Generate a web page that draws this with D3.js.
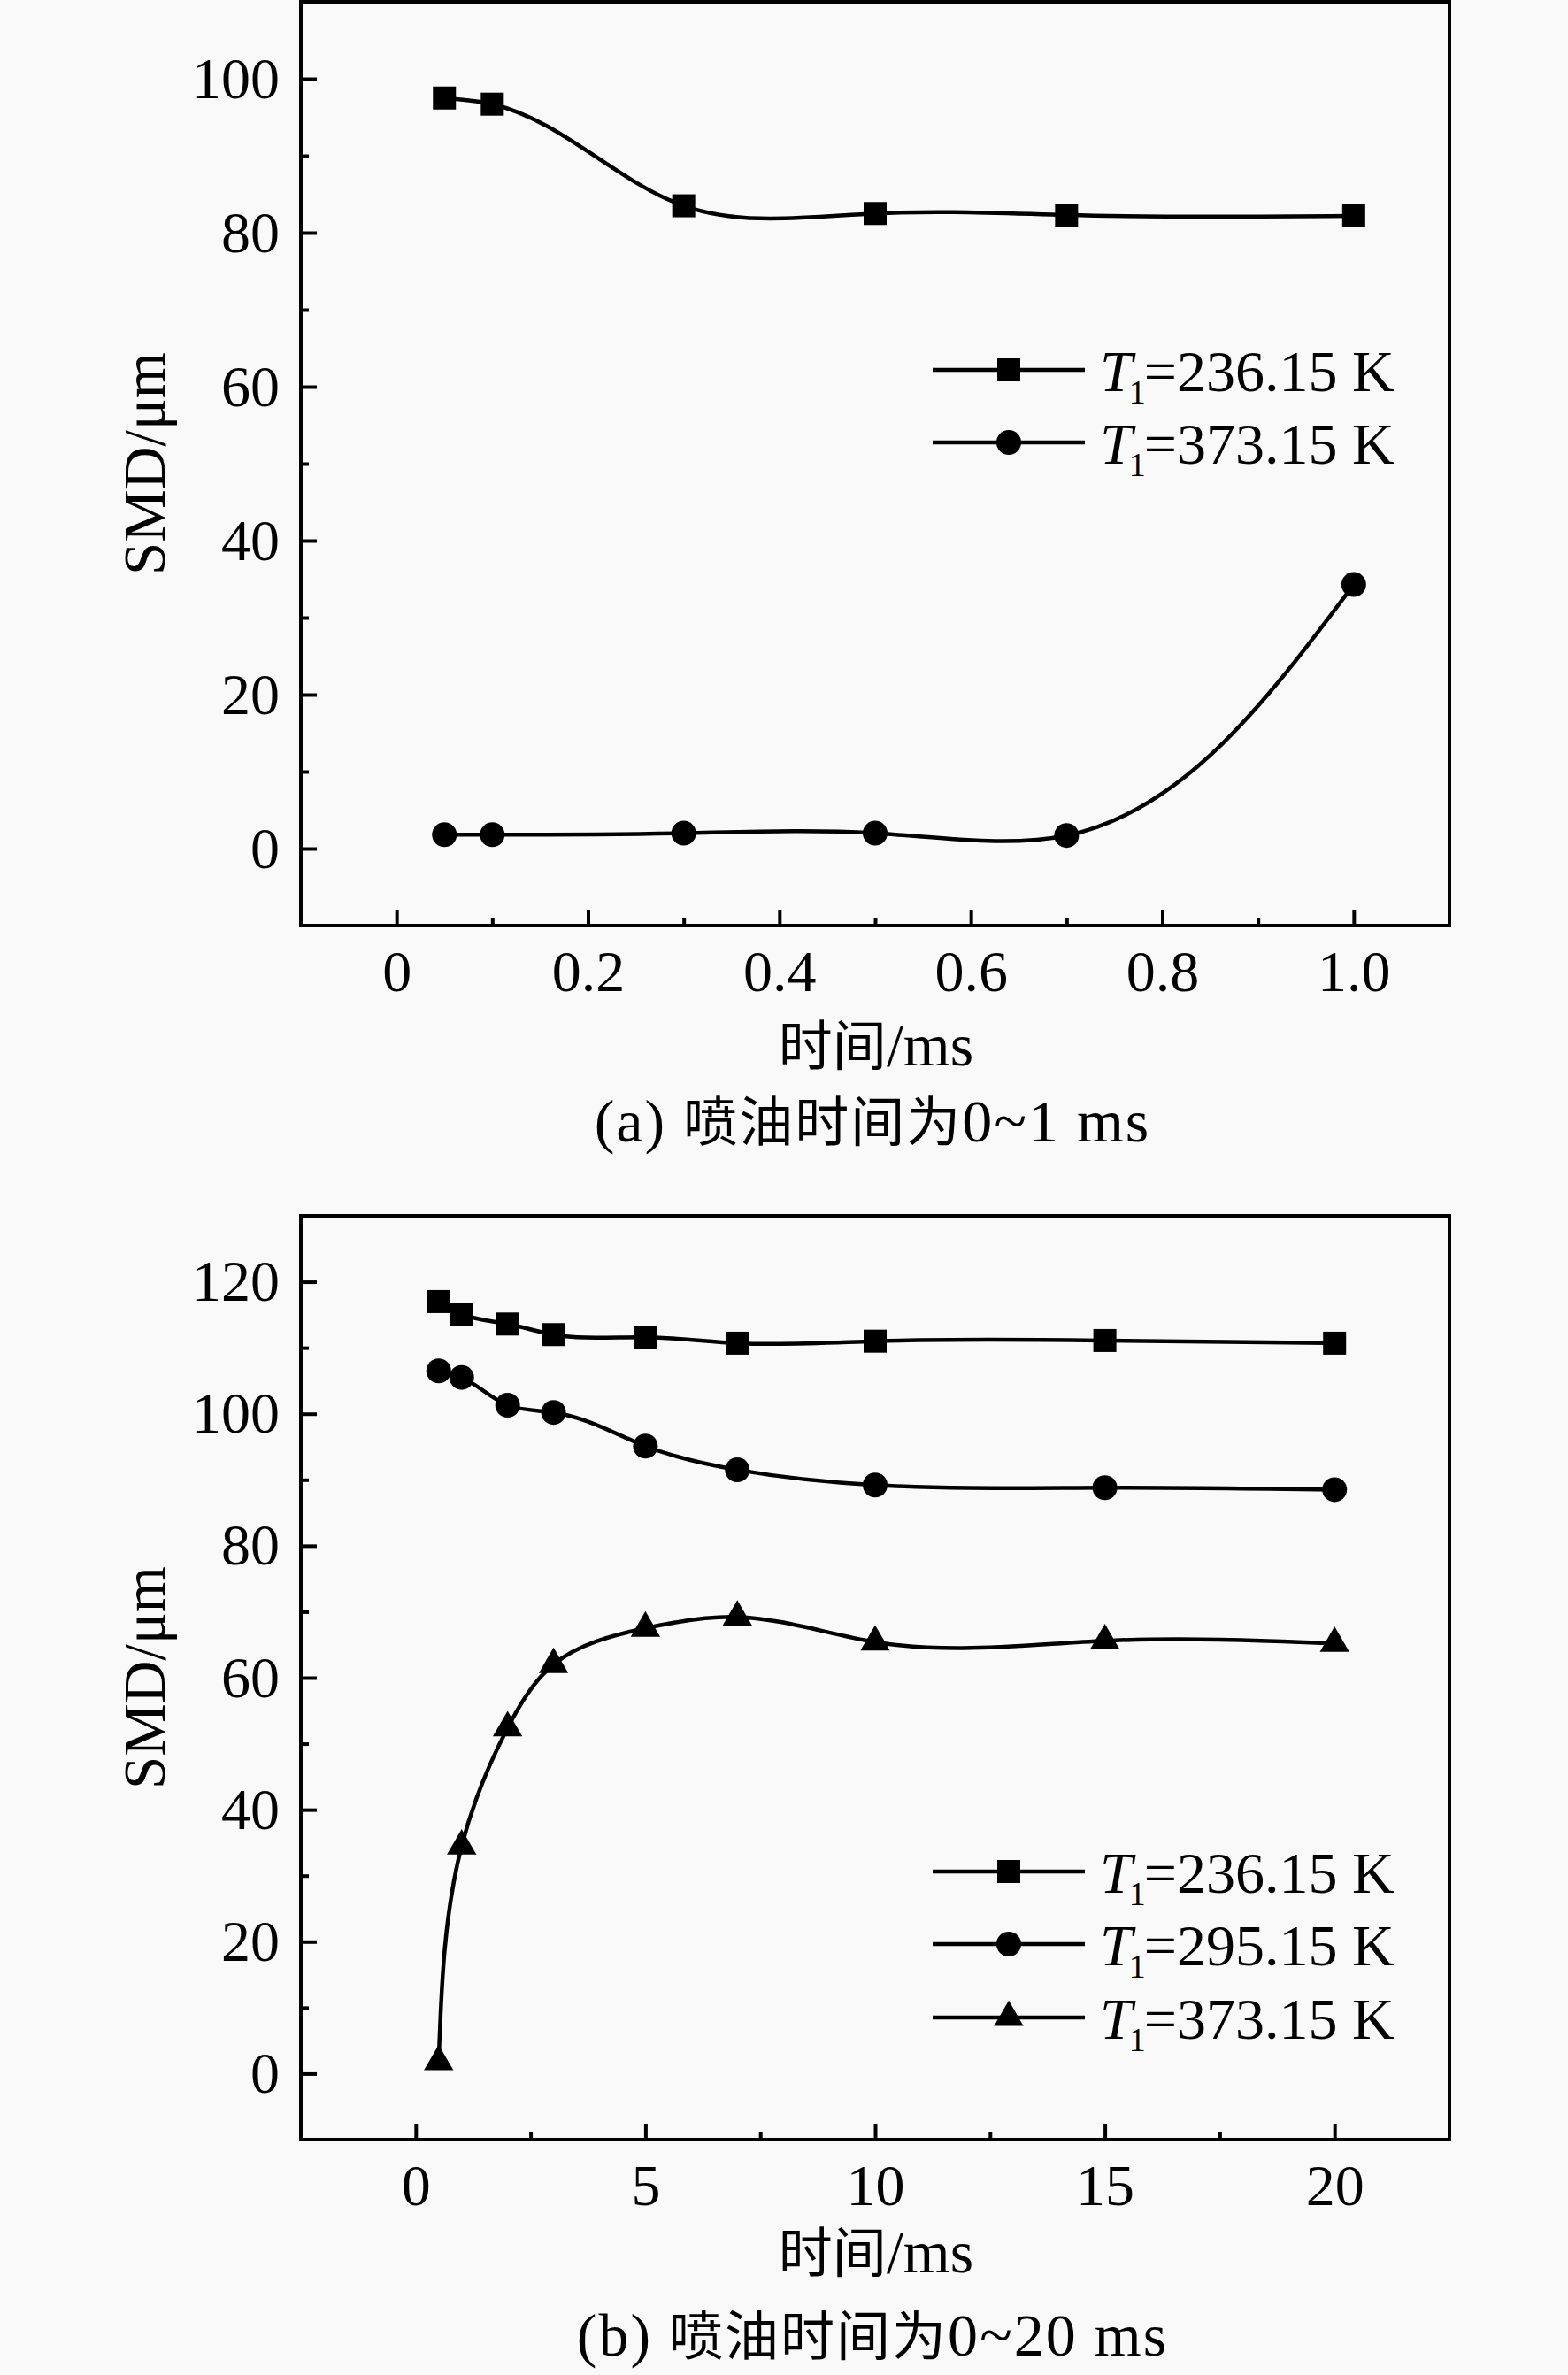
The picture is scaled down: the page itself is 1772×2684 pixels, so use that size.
<!DOCTYPE html>
<html>
<head>
<meta charset="utf-8">
<script src="https://cdn.jsdelivr.net/npm/d3@7"></script>
<style>
  body { margin: 0; background: #f9f9f9; }
  svg { display: block; }
</style>
</head>
<body>
<svg id="chart" width="1772" height="2684"></svg>
<script>
'use strict';

// panel (a): 0~1 ms
const timeA = [0.05, 0.1, 0.3, 0.5, 0.7, 1.0];
const smdA236 = [97.5, 96.7, 83.5, 82.5, 82.3, 82.2];
const smdA373 = [1.8, 1.8, 2.0, 2.0, 1.7, 34.3];
const ticksXA = [0, 0.2, 0.4, 0.6, 0.8, 1.0];
const minorXA = [0.1, 0.3, 0.5, 0.7, 0.9];
const ticksYA = [0, 20, 40, 60, 80, 100];
const minorYA = [10, 30, 50, 70, 90];

// panel (b): 0~20 ms
const timeB = [0.5, 1, 2, 3, 5, 7, 10, 15, 20];
const smdB236 = [117.0, 115.1, 113.6, 112.0, 111.6, 110.7, 111.0, 111.1, 110.7];
const smdB295 = [106.5, 105.5, 101.3, 100.2, 95.1, 91.5, 89.2, 88.8, 88.5];
const smdB373 = [1.8, 34.5, 52.4, 62.0, 67.5, 69.2, 65.4, 65.6, 65.2];
const ticksXB = [0, 5, 10, 15, 20];
const minorXB = [2.5, 7.5, 12.5, 17.5];
const ticksYB = [0, 20, 40, 60, 80, 100, 120];
const minorYB = [10, 30, 50, 70, 90, 110];

const seriesNames = ["=236.15 K", "=295.15 K", "=373.15 K"];
const yTitle = "SMD/μm";
// [text, isCJK] pieces, so Latin and Chinese can take their own sizes
const xTitle = [["时间", true], ["/ms", false]];
const captionA = [["(a) ", false], ["喷油时间为", true], ["0~1 ms", false]];
const captionB = [["(b) ", false], ["喷油时间为", true], ["0~20 ms", false]];

const serif = "'Liberation Serif', 'Times New Roman', serif";
const cjk = "'Noto Sans CJK SC', sans-serif";

// natural cubic spline derivatives of v over parameter t
function splineDerivs(t, v) {
	const n = t.length;
	const m = new Array(n).fill(0), a = [], b = [], c = [], r = [];
	for (let i = 1; i < n - 1; i++) {
		const h0 = t[i] - t[i - 1], h1 = t[i + 1] - t[i];
		a[i] = h0; b[i] = 2 * (h0 + h1); c[i] = h1;
		r[i] = 6 * ((v[i + 1] - v[i]) / h1 - (v[i] - v[i - 1]) / h0);
	}
	for (let i = 2; i < n - 1; i++) {
		const w = a[i] / b[i - 1];
		b[i] -= w * c[i - 1];
		r[i] -= w * r[i - 1];
	}
	for (let i = n - 2; i >= 1; i--) m[i] = (r[i] - c[i] * m[i + 1]) / b[i];
	const d = [];
	for (let i = 0; i < n - 1; i++) {
		const h = t[i + 1] - t[i];
		d[i] = (v[i + 1] - v[i]) / h - h * (2 * m[i] + m[i + 1]) / 6;
	}
	const h = t[n - 1] - t[n - 2];
	d[n - 1] = (v[n - 1] - v[n - 2]) / h + h * (m[n - 2] + 2 * m[n - 1]) / 6;
	return d;
}

// parametric (chord length) cubic spline through the points, as bezier pieces
function curveSpline(context) {
	let xs, ys;
	return {
		areaStart() {}, areaEnd() {},
		lineStart() { xs = []; ys = []; },
		point(x, y) { xs.push(+x); ys.push(+y); },
		lineEnd() {
			const n = xs.length;
			if (!n) return;
			context.moveTo(xs[0], ys[0]);
			if (n < 3) { if (n === 2) context.lineTo(xs[1], ys[1]); return; }
			const t = [0];
			for (let i = 1; i < n; i++) t[i] = t[i - 1] + Math.hypot(xs[i] - xs[i - 1], ys[i] - ys[i - 1]);
			const dx = splineDerivs(t, xs), dy = splineDerivs(t, ys);
			for (let i = 0; i < n - 1; i++) {
				const h = (t[i + 1] - t[i]) / 3;
				context.bezierCurveTo(xs[i] + h * dx[i], ys[i] + h * dy[i],
					xs[i + 1] - h * dx[i + 1], ys[i + 1] - h * dy[i + 1], xs[i + 1], ys[i + 1]);
			}
		}
	};
}

const symbols = {
	square: d3.symbol().type(d3.symbolSquare).size(26 * 26),
	circle: d3.symbol().type(d3.symbolCircle).size(Math.PI * 14 * 14),
	triangle: d3.symbol().type(d3.symbolTriangle).size(480)
};

const svg = d3.select("#chart");
svg.append("rect").attr("width", 1772).attr("height", 2684).attr("fill", "#f9f9f9");

function mixedText(g, pieces, x, y, spacing) {
	const t = g.append("text")
		.attr("x", x).attr("y", y)
		.attr("text-anchor", "middle")
		.attr("letter-spacing", spacing)
		.attr("fill", "#000");
	pieces.forEach(function (p) {
		t.append("tspan")
			.attr("font-family", p[1] ? cjk : serif)
			.attr("font-size", p[1] ? 61 : 68)
			.text(p[0]);
	});
	return t;
}

function drawPanel(cfg) {
	const x = d3.scaleLinear().domain(cfg.xDomain).range([340, 1638]);
	const y = d3.scaleLinear().domain(cfg.yDomain).range([cfg.bottom, cfg.top]);
	const g = svg.append("g");

	const styleAxis = function (sel) {
		sel.select(".domain").remove();
		sel.selectAll(".tick line").attr("stroke", "#000").attr("stroke-width", 4);
		sel.selectAll(".tick text").attr("fill", "#000");
		sel.attr("font-family", serif).attr("font-size", 66);
	};

	g.append("g")
		.attr("transform", "translate(0," + cfg.bottom + ")")
		.call(d3.axisBottom(x).tickValues(cfg.ticksX).tickSize(-18).tickPadding(27).tickFormat(cfg.fmtX))
		.call(styleAxis);
	g.append("g")
		.attr("transform", "translate(0," + cfg.bottom + ")")
		.call(d3.axisBottom(x).tickValues(cfg.minorX).tickSize(-9).tickFormat(""))
		.call(styleAxis);
	g.append("g")
		.attr("transform", "translate(340,0)")
		.call(d3.axisLeft(y).tickValues(cfg.ticksY).tickSize(-18).tickPadding(24).tickFormat(d3.format("d")))
		.call(styleAxis);
	g.append("g")
		.attr("transform", "translate(340,0)")
		.call(d3.axisLeft(y).tickValues(cfg.minorY).tickSize(-9).tickFormat(""))
		.call(styleAxis);

	g.append("rect")
		.attr("x", 340).attr("y", cfg.top)
		.attr("width", 1298).attr("height", cfg.bottom - cfg.top)
		.attr("fill", "none").attr("stroke", "#000").attr("stroke-width", 4);

	const line = d3.line()
		.x(d => x(d[0]))
		.y(d => y(d[1]))
		.curve(curveSpline);

	cfg.series.forEach(function (s) {
		const pts = cfg.time.map((t, i) => [t, s.values[i]]);
		g.append("path")
			.attr("d", line(pts))
			.attr("fill", "none").attr("stroke", "#000").attr("stroke-width", 4.5);
		g.selectAll(null)
			.data(pts)
			.enter().append("path")
			.attr("transform", d => "translate(" + x(d[0]) + "," + y(d[1]) + ")")
			.attr("d", symbols[s.symbol]())
			.attr("fill", "#000");
	});

	// legend
	cfg.series.forEach(function (s, i) {
		const ly = cfg.legendY[i];
		g.append("line")
			.attr("x1", 1054).attr("x2", 1226).attr("y1", ly).attr("y2", ly)
			.attr("stroke", "#000").attr("stroke-width", 4.5);
		g.append("path")
			.attr("transform", "translate(1140," + ly + ")")
			.attr("d", symbols[s.symbol]())
			.attr("fill", "#000");
		const t = g.append("text")
			.attr("x", 1243).attr("y", ly + 24)
			.attr("font-family", serif).attr("font-size", 66).attr("fill", "#000");
		t.append("tspan").attr("font-style", "italic").text("T");
		t.append("tspan").attr("font-size", 38).attr("dy", 14).attr("dx", -4).text("1");
		t.append("tspan").attr("dy", -14).attr("dx", -2).text(s.name);
	});

	// titles
	g.append("text")
		.attr("transform", "translate(186," + ((cfg.top + cfg.bottom) / 2) + ") rotate(-90)")
		.attr("text-anchor", "middle")
		.attr("font-family", serif).attr("font-size", 67).attr("fill", "#000")
		.text(yTitle);
	mixedText(g, xTitle, 990, cfg.xTitleY, 0);
	mixedText(g, cfg.caption, 986, cfg.captionY, 2);
}

drawPanel({
	top: 2, bottom: 1046,
	xDomain: [-0.1, 1.1], yDomain: [-10, 110],
	ticksX: ticksXA, minorX: minorXA, ticksY: ticksYA, minorY: minorYA,
	fmtX: d => d === 0 ? "0" : d3.format(".1f")(d),
	time: timeA,
	series: [
		{ name: seriesNames[0], values: smdA236, symbol: "square" },
		{ name: seriesNames[2], values: smdA373, symbol: "circle" }
	],
	legendY: [418, 500],
	xTitleY: 1204, captionY: 1290, caption: captionA
});

drawPanel({
	top: 1374, bottom: 2418,
	xDomain: [-2.5, 22.5], yDomain: [-10, 130],
	ticksX: ticksXB, minorX: minorXB, ticksY: ticksYB, minorY: minorYB,
	fmtX: d3.format("d"),
	time: timeB,
	series: [
		{ name: seriesNames[0], values: smdB236, symbol: "square" },
		{ name: seriesNames[1], values: smdB295, symbol: "circle" },
		{ name: seriesNames[2], values: smdB373, symbol: "triangle" }
	],
	legendY: [2115, 2197, 2280],
	xTitleY: 2568, captionY: 2662, caption: captionB
});
</script>
</body>
</html>
